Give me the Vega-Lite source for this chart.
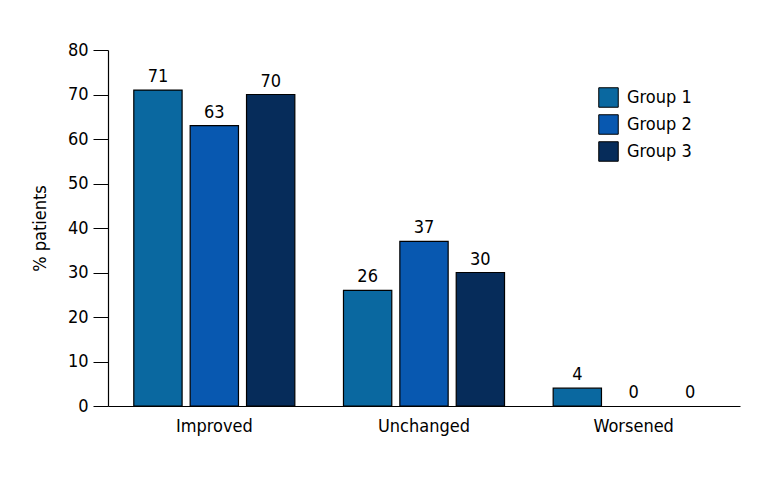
{
  "$schema": "https://vega.github.io/schema/vega-lite/v6.json",
  "autosize": "none",
  "width": 632,
  "height": 356,
  "padding": {"left": 108, "top": 50, "right": 28, "bottom": 74},
  "background": "white",
  "config": {
    "font": "DejaVu Sans Condensed, Liberation Sans, sans-serif",
    "view": {"stroke": null}
  },
  "data": {
    "values": [
      {"outcome": "Improved", "group": "Group 1", "pct": 71},
      {"outcome": "Improved", "group": "Group 2", "pct": 63},
      {"outcome": "Improved", "group": "Group 3", "pct": 70},
      {"outcome": "Unchanged", "group": "Group 1", "pct": 26},
      {"outcome": "Unchanged", "group": "Group 2", "pct": 37},
      {"outcome": "Unchanged", "group": "Group 3", "pct": 30},
      {"outcome": "Worsened", "group": "Group 1", "pct": 4},
      {"outcome": "Worsened", "group": "Group 2", "pct": 0},
      {"outcome": "Worsened", "group": "Group 3", "pct": 0}
    ]
  },
  "encoding": {
    "x": {
      "field": "outcome", "type": "nominal", "sort": null,
      "scale": {"paddingInner": 0.232, "paddingOuter": 0.123},
      "axis": {"title": null, "labelAngle": 0, "ticks": false, "labelPadding": 11, "labelFontSize": 18, "labelColor": "black", "domainColor": "black", "domainWidth": 1.2}
    },
    "xOffset": {"field": "group", "type": "nominal", "scale": {"paddingInner": 0.143, "paddingOuter": 0}},
    "y": {
      "field": "pct", "type": "quantitative",
      "scale": {"domain": [0, 80]},
      "axis": {"title": "% patients", "titleFontSize": 18, "titleFontWeight": "normal", "titleColor": "black", "titlePadding": 18, "values": [0,10,20,30,40,50,60,70,80], "labelOverlap": false, "grid": false, "tickSize": 15, "tickColor": "black", "domainColor": "black", "domainWidth": 1.2, "labelFontSize": 18, "labelColor": "black", "labelPadding": 5}
    }
  },
  "layer": [
    {
      "transform": [{"filter": "datum.pct > 0"}],
      "mark": {"type": "bar", "stroke": "black", "strokeWidth": 1.2},
      "encoding": {
        "color": {
          "field": "group", "type": "nominal",
          "scale": {"domain": ["Group 1", "Group 2", "Group 3"], "range": ["#0a68a0", "#0858b0", "#062c5a"]},
          "legend": {"title": null, "orient": "none", "legendX": 490, "legendY": 37, "symbolType": "square", "symbolSize": 380, "symbolStrokeColor": "black", "symbolStrokeWidth": 1, "labelFontSize": 18, "labelColor": "black", "rowPadding": 2, "labelOffset": 8}
        }
      }
    },
    {
      "mark": {"type": "text", "baseline": "bottom", "dy": -4, "fontSize": 18, "color": "black"},
      "encoding": {"text": {"field": "pct", "type": "quantitative"}}
    }
  ]
}
